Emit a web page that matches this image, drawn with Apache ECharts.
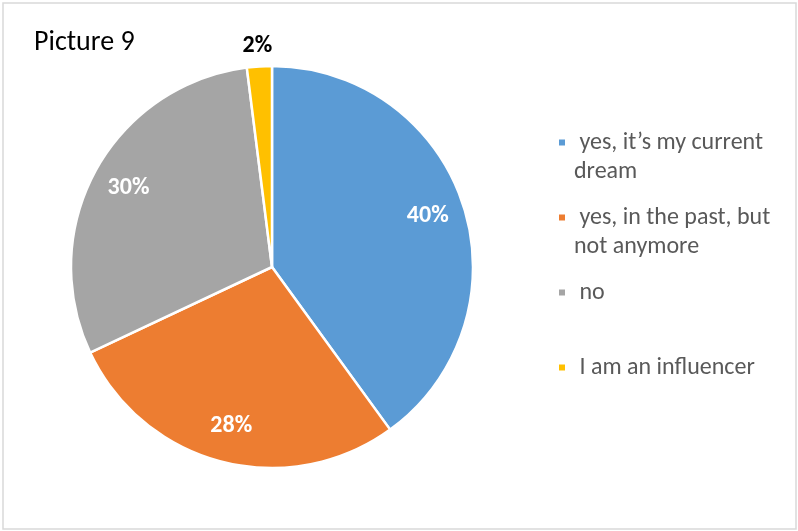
<!DOCTYPE html>
<html>
<head>
<meta charset="utf-8">
<style>
  html, body { margin: 0; padding: 0; background: #ffffff; }
  #chart { width: 798px; height: 531px; }
</style>
<script src="https://cdn.jsdelivr.net/npm/echarts@6/dist/echarts.min.js"></script>
</head>
<body>
<div id="chart"></div>
<script>
// Survey answers and their shares (percent)
const categories = ['yes, it’s my current dream', 'yes, in the past, but not anymore', 'no', 'I am an influencer'];
const shares = [40, 28, 30, 2];
const sliceColors = ['#5B9BD5', '#ED7D31', '#A5A5A5', '#FFC000'];
// Legend text wrapped over two lines; a blank leading line keeps the marker beside the first line
const legendText = [' \n yes, it’s my current\ndream', ' \n yes, in the past, but\nnot anymore', ' \n no\n ', ' \n I am an influencer\n '];

const FONT = 'Carlito, Calibri, Lato, sans-serif';
const CENTER = [272, 267];
const RADIUS = 201;

const pieData = categories.map((name, i) => ({
  name: name,
  value: shares[i],
  itemStyle: { color: sliceColors[i] }
}));

const chart = echarts.init(document.getElementById('chart'), null, { renderer: 'canvas' });

chart.setOption({
  animation: false,
  backgroundColor: '#ffffff',
  title: {
    text: 'Picture 9',
    left: 29,
    top: 24,
    textStyle: { fontFamily: FONT, fontSize: 28, fontWeight: 'normal', color: '#000000' }
  },
  legend: {
    orient: 'vertical',
    left: 557,
    top: 99,
    padding: 0,
    itemWidth: 8,
    itemHeight: 8,
    itemGap: -12,
    icon: 'rect',
    selectedMode: false,
    data: categories,
    formatter: (name) => legendText[categories.indexOf(name)],
    textStyle: {
      fontFamily: FONT,
      fontSize: 24,
      lineHeight: 29,
      color: '#595959',
      padding: [0, 0, 0, 3]
    }
  },
  graphic: [{
    type: 'rect',
    shape: { x: 3, y: 3, width: 793, height: 526 },
    style: { fill: 'none', stroke: '#d9d9d9', lineWidth: 1.5 },
    silent: true,
    z: -1
  }],
  series: [
    {
      // the slices themselves; only the tiny slice gets its label outside
      type: 'pie',
      center: CENTER,
      radius: [0, RADIUS],
      startAngle: 90,
      clockwise: true,
      avoidLabelOverlap: false,
      itemStyle: { borderColor: '#ffffff', borderWidth: 2.5 },
      emphasis: { disabled: true },
      data: pieData.map(d => ({
        ...d,
        label: d.value < 5
          ? { show: true, position: 'outside', formatter: '{c}%', fontFamily: FONT, fontSize: 24, fontWeight: 'bold', color: '#000000', distanceToLabelLine: -14 }
          : { show: false }
      })),
      labelLine: { show: false, length: 20, length2: 0 }
    },
    {
      // transparent ring carrying the inner percentage labels near the rim
      type: 'pie',
      center: CENTER,
      radius: [RADIUS * 0.6, RADIUS],
      startAngle: 90,
      clockwise: true,
      silent: true,
      legendHoverLink: false,
      itemStyle: { color: 'rgba(0,0,0,0)', borderWidth: 0 },
      emphasis: { disabled: true },
      data: pieData.map(d => ({
        name: d.name,
        value: d.value,
        itemStyle: { color: 'rgba(0,0,0,0)' },
        label: d.value < 5
          ? { show: false }
          : { show: true, position: 'inside', formatter: '{c}%', fontFamily: FONT, fontSize: 24, fontWeight: 'bold', color: '#ffffff' }
      })),
      labelLine: { show: false }
    }
  ]
});
</script>
</body>
</html>
